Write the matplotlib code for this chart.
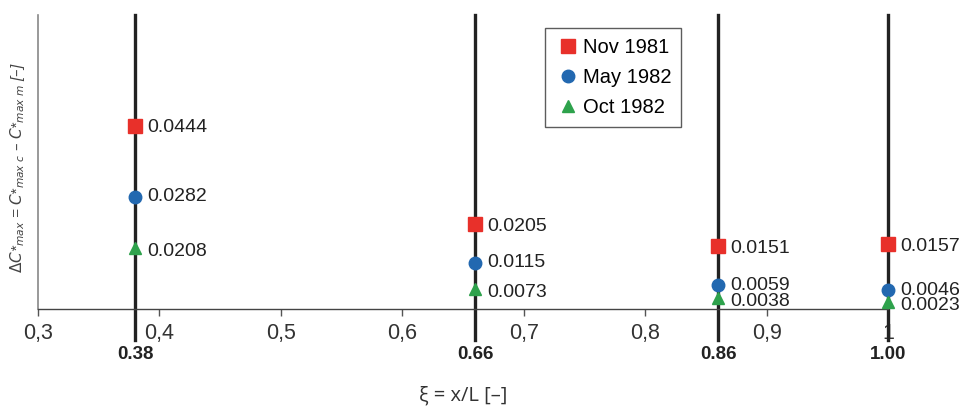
import matplotlib.pyplot as plt

plt.rcParams['font.family'] = ['Liberation Sans', 'DejaVu Sans']
plt.rcParams['mathtext.fontset'] = 'dejavusans'

# measuring stations along the reach
stations = [0.38, 0.66, 0.86, 1.00]
station_labels = ['0.38', '0.66', '0.86', '1.00']

# marker heights as drawn in the chart (vertical axis has no scale)
nov_1981 = [0.0436, 0.0202, 0.0150, 0.0155]
may_1982 = [0.0267, 0.0110, 0.0057, 0.0045]
oct_1982 = [0.0145, 0.0048, 0.0026, 0.0017]

# printed values next to the markers
nov_text = ['0.0444', '0.0205', '0.0151', '0.0157']
may_text = ['0.0282', '0.0115', '0.0059', '0.0046']
oct_text = ['0.0208', '0.0073', '0.0038', '0.0023']

xticks = [0.3, 0.4, 0.5, 0.6, 0.7, 0.8, 0.9, 1.0]
xtick_labels = ['0,3', '0,4', '0,5', '0,6', '0,7', '0,8', '0,9', '1']

fig = plt.figure(figsize=(9.63, 4.08), dpi=100)
ax = fig.add_axes([0.0395, 0.2426, 0.8827, 0.7206])
ax.set_xlim(0.3, 1.0)
ax.set_ylim(0, 0.07)

for x in stations:
    ax.axvline(x, ymin=-0.105, ymax=1, color='#222222', lw=2.4,
               clip_on=False, zorder=2)

series = [
    (nov_1981, nov_text, 's', '#e8302a', 10, 'Nov 1981', -1.5),
    (may_1982, may_text, 'o', '#2268b0', 9, 'May 1982', 0),
    (oct_1982, oct_text, '^', '#2ea24c', 8, 'Oct 1982', -2.5),
]
for ys, texts, mk, col, ms, lab, dy in series:
    ax.plot(stations, ys, ls='none', marker=mk, color=col, ms=ms,
            label=lab, zorder=3, clip_on=False)
    for x, y, t in zip(stations, ys, texts):
        ax.annotate(t, (x, y), xytext=(8.5, dy), textcoords='offset points',
                    ha='left', va='center', fontsize=14, color='#222222')

ax.set_xticks(xticks)
ax.set_xticklabels(xtick_labels, fontsize=15.5, color='#333333')
ax.tick_params(axis='x', direction='out', length=5, width=1, color='#555555', pad=5)
ax.set_yticks([])

for s in ['top', 'right']:
    ax.spines[s].set_visible(False)
ax.spines['bottom'].set_color('#444444')
ax.spines['left'].set_color('#888888')
ax.spines['bottom'].set_linewidth(1)
ax.spines['left'].set_linewidth(1.2)

for x, t in zip(stations, station_labels):
    ax.text(x, -0.0088, t, transform=ax.transData, ha='center', va='top',
            fontsize=13.5, fontweight='bold', color='#222222')

ax.set_xlabel('ξ = x/L [–]', fontsize=14.5, family=['Open Sans', 'DejaVu Sans'],
              color='#333333', labelpad=30)
ax.set_ylabel(r'$\Delta C$*$_{max}$ = $C$*$_{max\ c}$ – $C$*$_{max\ m}$ [–]',
              fontsize=11, color='#444444', style='italic')
ax.yaxis.set_label_coords(-0.013, 0.48)

leg = ax.legend(loc='upper left', bbox_to_anchor=(0.584, 0.99), fontsize=14.5,
                frameon=True, fancybox=False, edgecolor='#333333',
                handletextpad=0.1, borderpad=0.5, labelspacing=0.55,
                handlelength=1.3)
leg.get_frame().set_linewidth(1)

fig.savefig('out.png', dpi=100)
